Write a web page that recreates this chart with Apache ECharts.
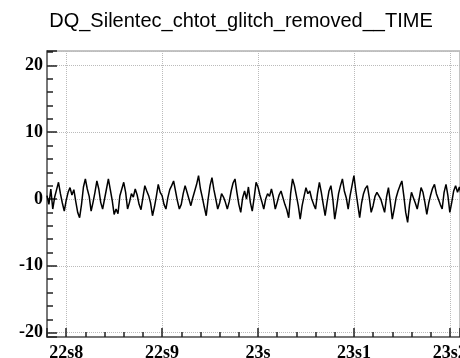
<!DOCTYPE html>
<html>
<head>
<meta charset="utf-8">
<script src="https://cdn.jsdelivr.net/npm/echarts@6/dist/echarts.min.js"></script>
<style>html,body{margin:0;padding:0;background:#fff;}#c{width:460px;height:358px;}</style>
</head>
<body>
<div id="c"></div>
<script>
var chartTitle = "DQ_Silentec_chtot_glitch_removed__TIME";
var tStart = 22.78;
var tStep = 0.002;
var values = [
  0.5, -0.8, 1.5, -1.5, 0.3, 1.4, 2.5, 0.8, -0.6, -1.8,
  -0.2, 1.0, 1.7, 0.6, 1.4, -0.4, -2.0, -2.8, -0.8, 1.8,
  3.0, 1.5, 0.4, -1.8, -0.5, 1.0, 2.7, 1.5, -0.5, -1.5,
  0.0, 1.5, 3.0, 1.4, -0.2, -2.3, -1.5, -2.2, 0.5, 1.5,
  2.5, 1.0, -1.5, -0.5, 0.8, 0.3, 1.5, 0.6, -0.8, -1.6,
  0.2, 2.0, 1.2, 0.5, -0.6, -2.5, -1.2, 0.4, 2.2, 1.0,
  0.5, -0.8, -1.5, 0.2, 1.4, 2.0, 2.7, 1.2, -0.3, -1.5,
  -0.8, 0.8, 2.0, 1.0, 0.0, -1.0, 0.2, 1.2, 2.2, 3.5,
  1.5, 0.2, -1.2, -2.5, 0.0, 2.0, 3.2, 1.4, 0.0, -1.5,
  -0.6, 0.8, 0.3, -0.5, -1.5, -0.4, 1.2, 2.4, 3.0, 1.0,
  -0.8, -2.0, 0.2, 1.2, 0.0, 1.8, -0.5, -1.8, 0.2, 2.5,
  1.8, 0.6, -0.4, -1.5, 0.0, 0.8, 0.4, 1.5, 0.3, -1.5,
  -0.5, 0.6, 1.2, 0.2, -0.8, -1.6, -2.8, 0.8, 3.0, 2.0,
  0.5, -1.0, -3.0, -1.0, 0.4, 1.7, 0.8, 1.2, 0.0, -0.8,
  -1.5, 0.8, 2.5, 1.0, -0.8, -2.5, -0.5, 1.2, 2.0, 0.0,
  -3.0, -1.2, 0.8, 2.0, 3.0, 1.2, 0.2, -1.5, 0.5, 2.0,
  3.5, 1.2, -0.8, -2.8, -0.6, 0.8, 1.6, 2.0, 0.2, -2.0,
  -1.0, 0.4, 1.0, 1.2, 0.0, -1.0, -2.0, 0.3, 1.7, -0.5,
  -3.0, -1.5, 0.2, 1.2, 2.0, 2.7, 0.5, -2.0, -3.5, -0.8,
  1.0, 0.2, -0.6, -1.5, 0.0, 1.7, 1.0, -0.5, -2.3, -0.6,
  0.6, 1.6, 2.2, 0.8, 0.0, -0.8, -1.5, 1.0, 2.2, 0.5,
  -2.0, -0.5, 1.2, 2.0, 1.0, 1.8, 0.5
];
var xMin = 22.78, xMax = 23.2106;
var yMin = -20.65, yMax = 22.15;

var seriesData = values.map(function (v, i) { return [tStart + i * tStep, v]; });

function fmtTime(v) {
  var r = Math.round(v * 10);
  var ip = Math.floor(r / 10);
  var d = r - ip * 10;
  return ip + 's' + (d === 0 ? '' : d);
}

var chart = echarts.init(document.getElementById('c'), null, {renderer: 'canvas'});
chart.setOption({
  animation: false,
  backgroundColor: '#fff',
  title: {
    text: chartTitle,
    left: 236,
    textAlign: 'center',
    top: 6,
    textStyle: {fontFamily: 'Liberation Sans', fontWeight: 'normal', fontSize: 20, color: '#000'}
  },
  grid: {left: 47, top: 51, right: 0, bottom: 21, outerBoundsMode: 'none', containLabel: false, show: true, borderColor: '#888', borderWidth: 1, backgroundColor: 'transparent'},
  xAxis: {
    type: 'value', min: xMin, max: xMax,
    axisLine: {show: true, onZero: false, lineStyle: {color: '#777', width: 2}},
    axisTick: {show: true, inside: true, length: 9, lineStyle: {color: '#222', width: 1.5}},
    minorTick: {show: true, splitNumber: 5, length: 5, lineStyle: {color: '#222', width: 1.5}},
    splitLine: {show: true, lineStyle: {color: '#bbb', type: 'dotted', width: 1}},
    axisLabel: {
      showMinLabel: false, showMaxLabel: false, margin: 7, hideOverlap: false,
      fontFamily: 'Liberation Serif', fontWeight: 'bold', fontSize: 18, color: '#000',
      formatter: fmtTime
    }
  },
  yAxis: {
    type: 'value', min: yMin, max: yMax,
    axisLine: {show: true, onZero: false, lineStyle: {color: '#777', width: 2}},
    axisTick: {show: true, inside: true, length: 10, lineStyle: {color: '#222', width: 1.5}},
    minorTick: {show: true, splitNumber: 5, length: 6, lineStyle: {color: '#222', width: 1.5}},
    splitLine: {show: true, lineStyle: {color: '#bbb', type: 'dotted', width: 1}},
    axisLabel: {
      showMinLabel: false, showMaxLabel: false, margin: 4,
      fontFamily: 'Liberation Serif', fontWeight: 'bold', fontSize: 18, color: '#000'
    }
  },
  series: [{
    type: 'line',
    data: seriesData,
    showSymbol: false,
    symbol: 'none',
    lineStyle: {color: '#000', width: 1.5},
    clip: true
  }]
});
</script>
</body>
</html>
